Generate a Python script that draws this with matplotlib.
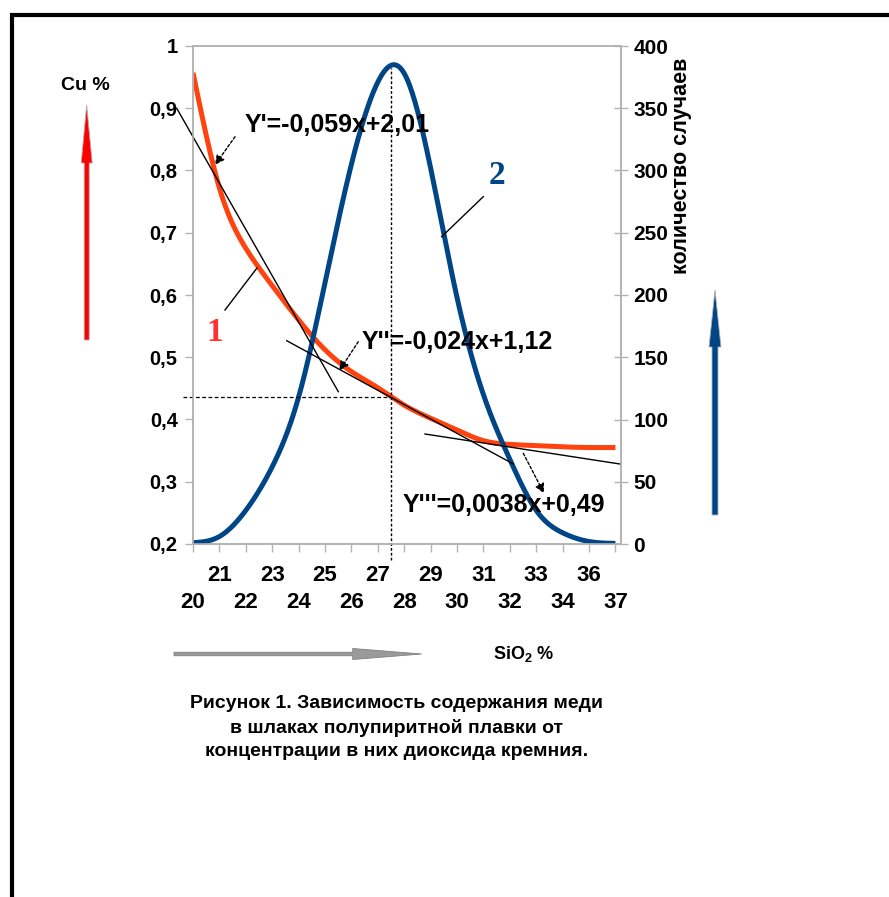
import matplotlib
matplotlib.use("Agg")
import matplotlib.pyplot as plt
from matplotlib.patches import FancyArrow
import numpy as np

# SiO2 content, % (category axis, 35 is absent in the source)
sio2 = [20, 21, 22, 23, 24, 25, 26, 27, 28, 29, 30, 31, 32, 33, 34, 36, 37]
# curve 1: Cu in slag, %
cu = [0.957, 0.772, 0.675, 0.615, 0.560, 0.512, 0.477, 0.451, 0.423,
      0.402, 0.383, 0.366, 0.360, 0.358, 0.356, 0.355, 0.355]
# curve 2: number of cases
cases = [1, 6, 27, 62, 118, 210, 305, 371, 378, 302, 198, 120, 68, 27, 9, 2, 0.5]

cu_ticks = [0.2, 0.3, 0.4, 0.5, 0.6, 0.7, 0.8, 0.9, 1.0]
cases_ticks = [0, 50, 100, 150, 200, 250, 300, 350, 400]

RED = '#ff420e'
BLUE = '#004586'
GRAY = '#b3b3b3'

plt.rcParams['font.family'] = ['Liberation Sans', 'DejaVu Sans']
plt.rcParams['font.weight'] = 'bold'
plt.rcParams['mathtext.fontset'] = 'custom'
plt.rcParams['mathtext.rm'] = 'Liberation Sans'
plt.rcParams['mathtext.bf'] = 'Liberation Sans:bold'


def smooth(vals, num=500):
    # natural cubic spline through the points, like the "smooth line" of the original
    y = np.asarray(vals, float)
    n = len(y)
    A = np.zeros((n, n))
    r = np.zeros(n)
    A[0, 0] = A[-1, -1] = 1
    for i in range(1, n - 1):
        A[i, i - 1], A[i, i], A[i, i + 1] = 1, 4, 1
        r[i] = 6 * (y[i - 1] - 2 * y[i] + y[i + 1])
    M = np.linalg.solve(A, r)
    xs = np.linspace(0, n - 1, num)
    i = np.minimum(xs.astype(int), n - 2)
    t = xs - i
    u = 1 - t
    ys = u * y[i] + t * y[i + 1] + (u**3 - u) * M[i] / 6 + (t**3 - t) * M[i + 1] / 6
    return xs, ys


fig = plt.figure(figsize=(8.89, 8.97), dpi=100)
ax = fig.add_axes([193 / 889, 1 - 544 / 897, (620.7 - 193) / 889, (544 - 46) / 897])
ax2 = ax.twinx()

pos = np.arange(len(sio2))
xs, ys = smooth(cu)
ax.plot(xs, ys, color=RED, lw=3.6, solid_capstyle='butt')
xs, ys = smooth(cases)
ax2.plot(xs, np.clip(ys, 0, None), color=BLUE, lw=3.6, solid_capstyle='butt')

ax.set_xlim(0, 16.2)
ax.set_ylim(0.2, 1.0)
ax2.set_ylim(0, 400)

ax.set_xticks(pos)
ax.set_xticklabels([str(v) if k % 2 else '\n' + str(v) for k, v in enumerate(sio2)],
                   fontsize=16, fontweight='bold', linespacing=1.4)
ax.set_yticks(cu_ticks)
ax.set_yticklabels([('%g' % v).replace('.', ',') for v in cu_ticks], fontsize=14.5, fontweight='bold')
ax2.set_yticks(cases_ticks)
ax2.set_yticklabels([str(v) for v in cases_ticks], fontsize=15, fontweight='bold')

for a in (ax, ax2):
    for s in a.spines.values():
        s.set_color(GRAY)
        s.set_linewidth(1.2)
ax.tick_params(axis='x', direction='out', length=6, width=1, color=GRAY, pad=9)
ax.tick_params(axis='y', direction='out', length=6, width=1, color=GRAY, pad=5)
ax2.tick_params(axis='y', direction='inout', length=10, width=1, color=GRAY, pad=4)

# annotations, in Cu-axis data coordinates, drawn above both curves
T = ax.transData
ann = dict(transform=T, clip_on=False)
ax2.plot([-0.617, 5.504], [0.900, 0.4447], color='black', lw=1, **ann)
ax2.plot([3.549, 12.133], [0.5266, 0.3285], color='black', lw=1, **ann)
ax2.plot([8.788, 16.174], [0.3767, 0.3285], color='black', lw=1, **ann)
ax2.plot([7.489, 7.489], [0.174, 0.9647], color='black', lw=1, ls=(0, (2, 1.5)), **ann)
ax2.plot([-0.39, 7.489], [0.4366, 0.4366], color='black', lw=0.9, ls=(0, (3, 2)), **ann)
ax2.plot([1.212, 2.424], [0.5759, 0.6434], color='black', lw=1, **ann)
ax2.plot([10.996, 9.42], [0.758, 0.6937], color='black', lw=1, **ann)

ax2.text(0.833, 0.539, '1', transform=T, color='#ff3333', fontsize=24,
         family='Liberation Serif', fontweight='bold', ha='center', va='center')
ax2.text(11.515, 0.7912, '2', transform=T, color=BLUE, fontsize=24,
         family='Liberation Serif', fontweight='bold', ha='center', va='center')

ax2.text(1.97, 0.873, "Y'=-0,059x+2,01", transform=T, fontsize=18, fontweight='bold', va='center')
ax2.text(6.39, 0.525, "Y''=-0,024x+1,12", transform=T, fontsize=18, fontweight='bold', va='center')
ax2.text(7.955, 0.2627, "Y'''=0,0038x+0,49", transform=T, fontsize=18, fontweight='bold', va='center')

arrow = dict(arrowstyle='-|>', color='black', lw=1, linestyle=(0, (2, 1.5)),
             mutation_scale=14, shrinkA=0, shrinkB=0)
for tail, tip in [((1.591, 0.8543), (0.833, 0.8089)),
                  ((6.261, 0.525), (5.542, 0.4784)),
                  ((12.511, 0.3457), (13.295, 0.2814))]:
    ax2.annotate('', xy=tip, xytext=tail, xycoords=T, textcoords=T, arrowprops=arrow)

# page decorations in pixel coordinates
ov = fig.add_axes([0, 0, 1, 1], zorder=-1)
ov.set_xlim(0, 889)
ov.set_ylim(897, 0)
ov.axis('off')
ov.plot([10, 889], [15, 15], color='black', lw=3, solid_capstyle='butt')
ov.plot([12, 12], [13, 897], color='black', lw=3, solid_capstyle='butt')

ov.add_patch(FancyArrow(86.7, 340, 0, -235, width=5, head_width=11, head_length=58,
                        length_includes_head=True, fc='#ff0000', ec='#b0b0b0', lw=0.6))
ov.add_patch(FancyArrow(715, 515, 0, -225, width=6, head_width=12, head_length=57,
                        length_includes_head=True, fc=BLUE, ec='#b0b0b0', lw=0.6))
ov.add_patch(FancyArrow(174, 654, 247.7, 0, width=3.5, head_width=11, head_length=69,
                        length_includes_head=True, fc='#9a9a9a', ec='#808080', lw=0.6))

ov.text(85.5, 85, 'Cu %', fontsize=14, fontweight='bold', ha='center', va='center')
ov.text(682, 166, 'количество случаев', fontsize=15.5, fontweight='bold',
        rotation=90, ha='center', va='center')
ov.text(493, 654, r'SiO$_\mathbf{2}$ %', fontsize=13, fontweight='bold', ha='left', va='center')
caption = ['Рисунок 1. Зависимость содержания меди',
           'в шлаках полупиритной плавки от',
           'концентрации в них диоксида кремния.']
for line, yc in zip(caption, [704, 728, 752]):
    ov.text(397, yc, line, fontsize=14, fontweight='bold', ha='center', va='center')

fig.savefig('out.png', dpi=100, facecolor='white')
